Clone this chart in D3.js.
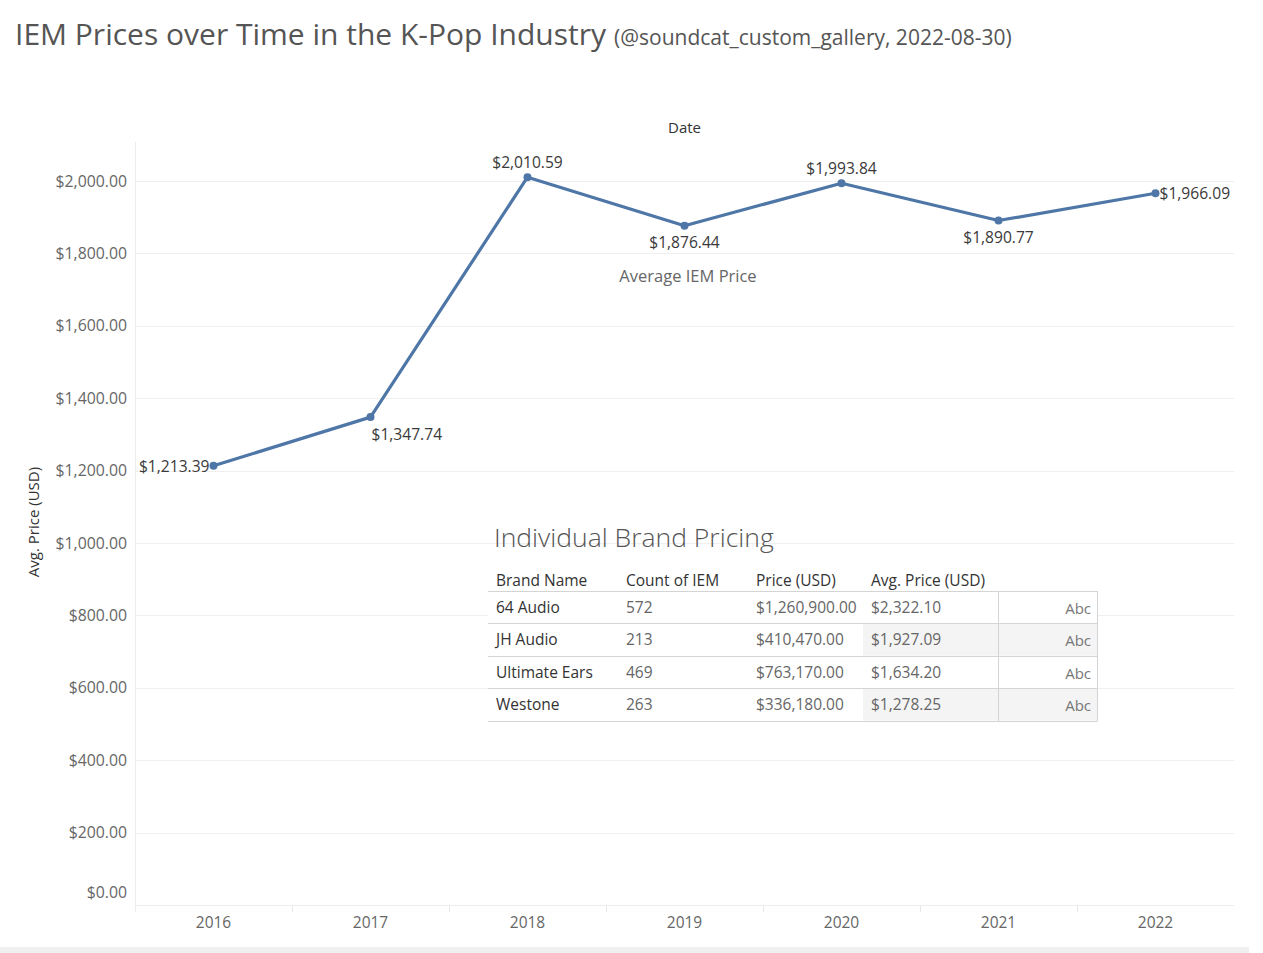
<!DOCTYPE html>
<html>
<head>
<meta charset="utf-8">
<script src="https://cdn.jsdelivr.net/npm/d3@7"></script>
<style>
  html, body { margin: 0; padding: 0; background: #fff; }
  svg { display: block; }
  text { font-family: "Open Sans", "Noto Sans", sans-serif; }
</style>
</head>
<body>
<svg id="chart" width="1263" height="953"></svg>
<script>
// ---- data ----
const years = ["2016", "2017", "2018", "2019", "2020", "2021", "2022"];
const avgPrices = [1213.39, 1347.74, 2010.59, 1876.44, 1993.84, 1890.77, 1966.09];
const yTicks = [0, 200, 400, 600, 800, 1000, 1200, 1400, 1600, 1800, 2000];
const labelPlacement = ["left", "below-right", "above", "below", "above", "below", "right"];

const brandNames = ["64 Audio", "JH Audio", "Ultimate Ears", "Westone"];
const iemCounts = [572, 213, 469, 263];
const brandPriceTotals = [1260900.00, 410470.00, 763170.00, 336180.00];
const brandAvgPrices = [2322.10, 1927.09, 1634.20, 1278.25];
const tableHeaders = ["Brand Name", "Count of IEM", "Price (USD)", "Avg. Price (USD)"];

(function () {
// ---- layout ----
const svg = d3.select("#chart");
const pLeft = 135, pRight = 1234, pTop = 142, pBottom = 905;
const lineColor = "#4e76a6";

const x = d3.scaleBand().domain(years).range([pLeft, pRight]);
const y = d3.scaleLinear().domain([0, 2000]).range([pBottom, 181]);
const fmt = d3.format("$,.2f");

// title
const title = svg.append("text").attr("x", 15).attr("y", 45)
  .attr("fill", "#555").style("font-size", "30px");
title.append("tspan").text("IEM Prices over Time in the K-Pop Industry");
title.append("tspan").attr("dx", 8).style("font-size", "21px")
  .text("(@soundcat_custom_gallery, 2022-08-30)");

// Date header
svg.append("text").attr("x", (pLeft + pRight) / 2).attr("y", 133)
  .attr("text-anchor", "middle").attr("fill", "#333").style("font-size", "15px").text("Date");

// gridlines
svg.append("g").selectAll("line").data(yTicks).join("line")
  .attr("x1", pLeft).attr("x2", pRight)
  .attr("y1", d => Math.round(y(d)) + 0.5).attr("y2", d => Math.round(y(d)) + 0.5)
  .attr("stroke", "#efefef").attr("stroke-width", 1);

// left vertical line
svg.append("line").attr("x1", pLeft + 0.5).attr("x2", pLeft + 0.5)
  .attr("y1", pTop).attr("y2", pBottom + 7).attr("stroke", "#ececec");

// y axis
const yAxis = svg.append("g").attr("transform", `translate(${pLeft},0)`)
  .call(d3.axisLeft(y).tickValues(yTicks).tickFormat(fmt).tickSize(0).tickPadding(8));
yAxis.select(".domain").remove();
yAxis.selectAll("text").style("font-size", "15.8px").attr("fill", "#666")
  .style("font-family", "'Open Sans', sans-serif")
  .attr("dy", d => d === 0 ? "-0.45em" : "0.32em");

// y axis title
svg.append("text").attr("transform", "translate(39,522) rotate(-90)")
  .attr("text-anchor", "middle").attr("fill", "#333").style("font-size", "15px")
  .text("Avg. Price (USD)");

// x axis
const xAxis = svg.append("g").attr("transform", `translate(0,${pBottom})`)
  .call(d3.axisBottom(x).tickSize(0).tickPadding(12));
xAxis.select(".domain").remove();
xAxis.selectAll("text").style("font-size", "15.5px").attr("fill", "#666")
  .style("font-family", "'Open Sans', sans-serif");
// band separators
svg.append("g").selectAll("line").data(years.slice(1)).join("line")
  .attr("x1", d => Math.round(x(d)) + 0.5).attr("x2", d => Math.round(x(d)) + 0.5)
  .attr("y1", pBottom + 1).attr("y2", pBottom + 7).attr("stroke", "#e6e6e6");
svg.append("line").attr("x1", pLeft).attr("x2", pRight)
  .attr("y1", pBottom + 0.5).attr("y2", pBottom + 0.5).attr("stroke", "#ececec");

// line
const pts = years.map((yr, i) => ({ yr, v: avgPrices[i], p: labelPlacement[i] }));
svg.append("path").datum(pts)
  .attr("d", d3.line().x(d => x(d.yr) + x.bandwidth() / 2).y(d => y(d.v)))
  .attr("fill", "none").attr("stroke", lineColor).attr("stroke-width", 3.2)
  .attr("stroke-linejoin", "round");
svg.append("g").selectAll("circle").data(pts).join("circle")
  .attr("cx", d => x(d.yr) + x.bandwidth() / 2).attr("cy", d => y(d.v))
  .attr("r", 4).attr("fill", lineColor);

// point labels
svg.append("g").selectAll("text").data(pts).join("text")
  .attr("x", d => {
    const cx = x(d.yr) + x.bandwidth() / 2;
    if (d.p === "left") return cx - 4;
    if (d.p === "right") return cx + 4;
    if (d.p === "below-right") return cx + 1;
    return cx;
  })
  .attr("y", d => {
    const cy = y(d.v);
    if (d.p === "above") return cy - 9;
    if (d.p === "below") return cy + 22;
    if (d.p === "below-right") return cy + 23;
    return cy + 6;
  })
  .attr("text-anchor", d => d.p === "left" ? "end" : (d.p === "right" || d.p === "below-right") ? "start" : "middle")
  .attr("fill", "#3a3a3a").style("font-size", "15.6px")
  .text(d => fmt(d.v));

// series caption
svg.append("text").attr("x", 688).attr("y", 282).attr("text-anchor", "middle")
  .attr("fill", "#666").style("font-size", "16.5px").text("Average IEM Price");

// ---- table ----
const tX = 488, tRight = 1097, abcX = 998, shadeX = 863;
const rowTop = 591, rowH = 32.4;
const colX = [496, 626, 756, 871];

svg.append("text").attr("x", 494).attr("y", 547).attr("fill", "#555")
  .style("font-size", "26.5px").style("font-weight", 300).text("Individual Brand Pricing");

svg.append("g").selectAll("text").data(tableHeaders).join("text")
  .attr("x", (d, i) => colX[i]).attr("y", 586).attr("fill", "#333")
  .style("font-size", "15.5px").text(d => d);

const rows = brandNames.map((b, i) => ({
  cells: [b, String(iemCounts[i]), fmt(brandPriceTotals[i]), fmt(brandAvgPrices[i])], i
}));
const rg = svg.append("g").selectAll("g").data(rows).join("g")
  .attr("transform", d => `translate(0,${rowTop + d.i * rowH})`);
rg.append("rect").attr("x", tX).attr("y", 0).attr("width", tRight - tX).attr("height", rowH)
  .attr("fill", "#fff");
rg.filter(d => d.i % 2 === 1).append("rect").attr("x", shadeX).attr("y", 0)
  .attr("width", tRight - shadeX).attr("height", rowH).attr("fill", "#f4f4f4");
rg.selectAll("text.cell").data(d => d.cells).join("text").attr("class", "cell")
  .attr("x", (d, i) => colX[i]).attr("y", 22)
  .attr("fill", (d, i) => i === 0 ? "#333" : "#666")
  .style("font-size", "15.5px").text(d => d);
rg.append("text").attr("x", 1091).attr("y", 23).attr("text-anchor", "end")
  .attr("fill", "#777").style("font-size", "15px").text("Abc");
// row lines
svg.append("g").selectAll("line").data(d3.range(brandNames.length + 1)).join("line")
  .attr("x1", tX).attr("x2", tRight)
  .attr("y1", i => Math.round(rowTop + i * rowH) + 0.5).attr("y2", i => Math.round(rowTop + i * rowH) + 0.5)
  .attr("stroke", "#d4d4d4");
// abc column borders
[abcX, tRight].forEach(xx => {
  svg.append("line").attr("x1", xx + 0.5).attr("x2", xx + 0.5)
    .attr("y1", rowTop).attr("y2", rowTop + brandNames.length * rowH + 1).attr("stroke", "#d4d4d4");
});

// bottom strip
svg.append("rect").attr("x", 0).attr("y", 947).attr("width", 1249).attr("height", 6).attr("fill", "#f0f0f0");
})();
</script>
</body>
</html>
